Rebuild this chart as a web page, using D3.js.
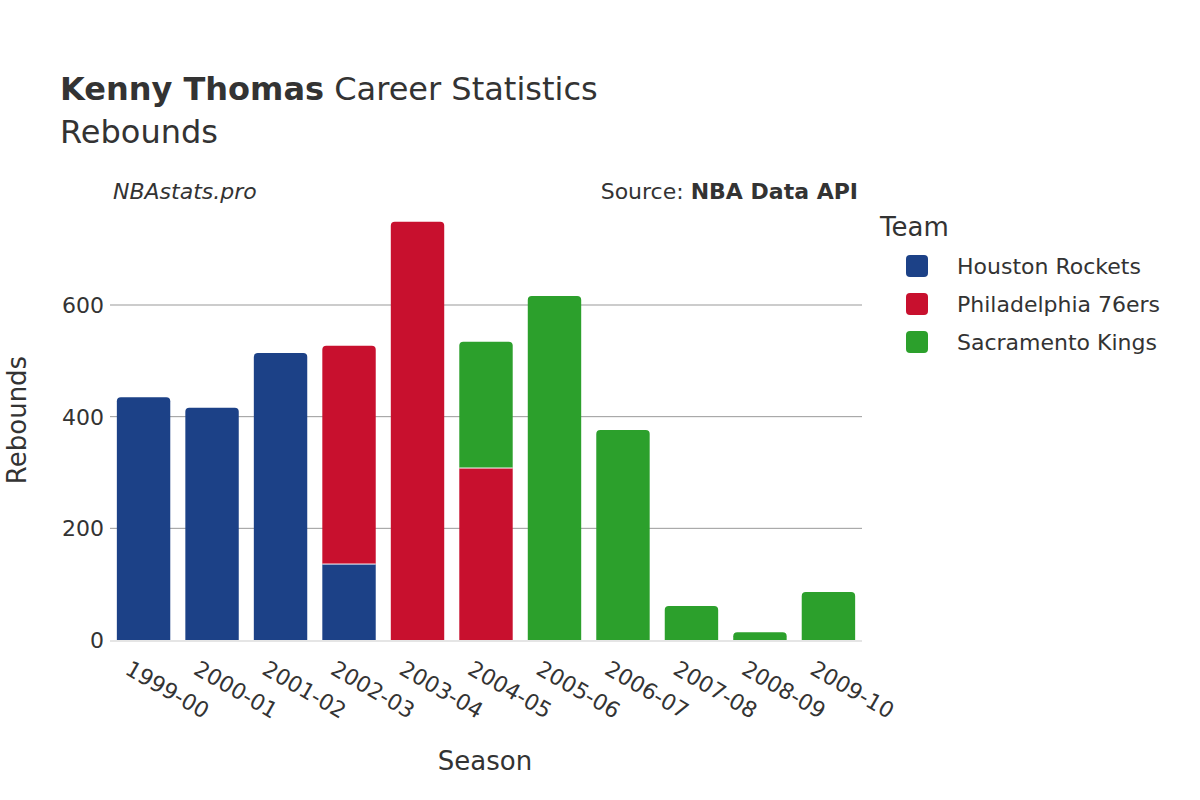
<!DOCTYPE html>
<html><head><meta charset="utf-8">
<script src="https://cdn.jsdelivr.net/npm/d3@7"></script>
<style>body{margin:0;background:#fff}text{font-family:"DejaVu Sans",sans-serif;fill:#333}</style>
</head><body><svg id="c" width="1200" height="800"></svg>
<script>
const seasons=["1999-00","2000-01","2001-02","2002-03","2003-04","2004-05","2005-06","2006-07","2007-08","2008-09","2009-10"];
const teams=["Houston Rockets","Philadelphia 76ers","Sacramento Kings"];
const colors=["#1c4187","#c8102e","#2ca02c"];
const houston=[435,416,514,136,0,0,0,0,0,0,0];
const philly=[0,0,0,391,749,308,0,0,0,0,0];
const sacramento=[0,0,0,0,0,226,616,376,61,14,86];
const yTicks=[0,200,400,600];

const svg=d3.select("#c");
const x=d3.scaleBand().domain(seasons).range([110,862]).paddingInner(0.22).paddingOuter(0.1);
const y=d3.scaleLinear().domain([0,600]).range([640,305]);
const g=svg.append("g");
yTicks.forEach(t=>{ if(t>0) g.append("line").attr("x1",110).attr("x2",862).attr("y1",y(t)).attr("y2",y(t)).attr("stroke","#999").attr("stroke-width",1);
 g.append("text").attr("x",104).attr("y",y(t)+8).attr("text-anchor","end").attr("font-size",22).text(t);});
g.append("line").attr("x1",110).attr("x2",862).attr("y1",641).attr("y2",641).attr("stroke","#e5e5e5").attr("stroke-width",2);
const series=[houston,philly,sacramento];
seasons.forEach((s,i)=>{
 let base=0; let top=-1; series.forEach((a,k)=>{if(a[i]>0)top=k;});
 series.forEach((a,k)=>{ const v=a[i]; if(!v)return;
  const x0=x(s),w=x.bandwidth(),y0=y(base),y1=y(base+v),r=k===top?Math.min(4,y0-y1):0;
  g.append("path").attr("fill",colors[k]).attr("stroke","#fff").attr("stroke-width",k>0&&base>0?0:0).attr("d",`M${x0},${y0}V${y1+r}Q${x0},${y1} ${x0+r},${y1}H${x0+w-r}Q${x0+w},${y1} ${x0+w},${y1+r}V${y0}Z`);
  if(base>0) g.append("line").attr("x1",x0).attr("x2",x0+w).attr("y1",y0).attr("y2",y0).attr("stroke","#fff").attr("stroke-width",1);
  base+=v; });
 g.append("text").attr("transform",`translate(${x(s)+x.bandwidth()/2-12},${660}) rotate(30)`).attr("text-anchor","start").attr("dy","0.7em").attr("font-size",22).text(s);
});
svg.append("text").attr("x",60).attr("y",100).attr("font-size",32).html('<tspan font-weight="bold">Kenny Thomas</tspan> Career Statistics');
svg.append("text").attr("x",60).attr("y",143).attr("font-size",32).text("Rebounds");
svg.append("text").attr("x",113).attr("y",199).attr("font-size",22).attr("font-style","italic").text("NBAstats.pro");
svg.append("text").attr("x",858).attr("y",199).attr("font-size",22).attr("text-anchor","end").html('Source: <tspan font-weight="bold">NBA Data API</tspan>');
svg.append("text").attr("x",485).attr("y",770).attr("font-size",26).attr("text-anchor","middle").text("Season");
svg.append("text").attr("transform","translate(26,420) rotate(-90)").attr("font-size",26).attr("text-anchor","middle").text("Rebounds");
svg.append("text").attr("x",880).attr("y",236).attr("font-size",26).text("Team");
teams.forEach((t,k)=>{const yy=266+k*38;
 svg.append("rect").attr("x",906).attr("y",yy-11).attr("width",22).attr("height",22).attr("rx",4).attr("fill",colors[k]);
 svg.append("text").attr("x",957).attr("y",yy+8).attr("font-size",22).text(t);});
</script></body></html>
